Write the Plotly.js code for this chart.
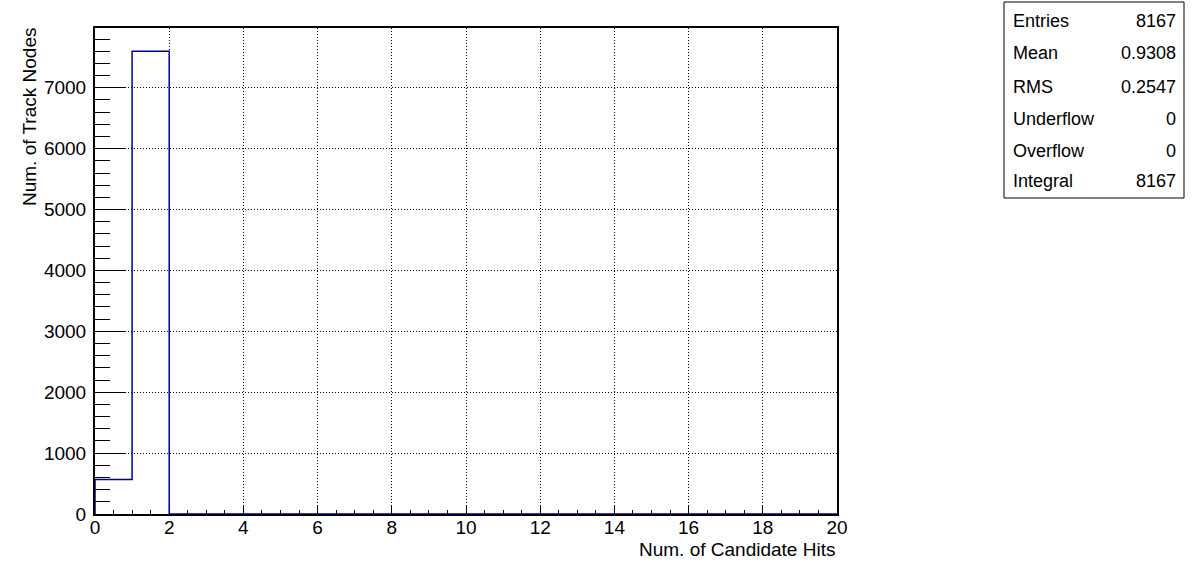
<!DOCTYPE html>
<html>
<head>
<meta charset="utf-8">
<script src="https://cdn.plot.ly/plotly-3.0.1.min.js"></script>
<style>html,body{margin:0;padding:0;background:#fff;}#chart{width:1196px;height:572px;}</style>
</head>
<body>
<div id="chart"></div>
<script>
// Histogram data (bin edges 0..20, unit width)
const binEdges = [0,1,2,3,4,5,6,7,8,9,10,11,12,13,14,15,16,17,18,19,20];
const counts   = [565,7602,0,0,0,0,0,0,0,0,0,0,0,0,0,0,0,0,0,0];
const statLabels = ["Entries","Mean","RMS","Underflow","Overflow","Integral"];
const statValues = ["8167","0.9308","0.2547","0","0","8167"];
const xTitle = "Num. of Candidate Hits";
const yTitle = "Num. of Track Nodes";

// Build step outline
const xs = [binEdges[0]];
const ys = [0];
for (let i = 0; i < counts.length; i++) { xs.push(binEdges[i]); ys.push(counts[i]); }
xs.push(binEdges[binEdges.length-1]); ys.push(0);

const W = 1196, H = 572;
const L = 95, R = 837, T = 28, B = 514;
const pw = R - L, ph = B - T;
const px = v => (v - L) / pw;
const py = v => (B - v) / ph;

const font = "Liberation Sans, Arial, Helvetica, sans-serif";
const fs = 19;
const maxY = Math.max(...counts) * 1.05;

const shapes = [{
  type: "rect", xref: "paper", yref: "paper",
  x0: px(1004), x1: px(1184), y0: py(198), y1: py(2),
  line: {color: "black", width: 1}, fillcolor: "white"
}];
const annotations = [];
const rowY = [21, 53, 87, 119, 151, 181];
statLabels.forEach((lab, i) => {
  annotations.push({xref:"paper", yref:"paper", x: px(1011), y: py(rowY[i]), xanchor:"left", yanchor:"middle",
    text: lab, showarrow:false, font:{family:font, size:fs-1, color:"black"}});
  annotations.push({xref:"paper", yref:"paper", x: px(1178), y: py(rowY[i]), xanchor:"right", yanchor:"middle",
    text: statValues[i], showarrow:false, font:{family:font, size:fs-1, color:"black"}});
});
// axis titles (ROOT-style, aligned to the axis end)
annotations.push({xref:"paper", yref:"paper", x: 1, y: py(549), xanchor:"right", yanchor:"middle",
  text: xTitle, showarrow:false, font:{family:font, size:fs, color:"black"}});
annotations.push({xref:"paper", yref:"paper", x: px(30), y: py(26), xanchor:"center", yanchor:"top", textangle:-90,
  text: yTitle, showarrow:false, font:{family:font, size:fs, color:"black"}});

const trace = {
  type: "scatter", mode: "lines", x: xs, y: ys,
  line: {shape: "hv", color: "#000099", width: 1.5},
  hoverinfo: "skip", showlegend: false
};

const gridDash = "1px,2px";
const layout = {
  width: W, height: H,
  margin: {l: L, r: W - R, t: T, b: H - B, pad: 0},
  paper_bgcolor: "white", plot_bgcolor: "white",
  font: {family: font, size: fs, color: "black"},
  showlegend: false,
  xaxis: {
    range: [0, 20], dtick: 2, tick0: 0,
    showline: true, linecolor: "black", linewidth: 2, mirror: true,
    ticks: "inside", ticklen: 9, tickwidth: 1, tickcolor: "black",
    showgrid: true, gridcolor: "black", griddash: gridDash, gridwidth: 1,
    zeroline: false,
    minor: {ticks: "inside", ticklen: 4, dtick: 0.5, tickcolor: "black", showgrid: false},
    tickfont: {family: font, size: fs, color: "black"},
    ticklabelstandoff: -5,
    layer: "below traces"
  },
  yaxis: {
    range: [0, maxY], dtick: 1000, tick0: 0,
    showline: true, linecolor: "black", linewidth: 2, mirror: true,
    ticks: "inside", ticklen: 30, tickwidth: 1, tickcolor: "black",
    showgrid: true, gridcolor: "black", griddash: gridDash, gridwidth: 1,
    zeroline: false,
    minor: {ticks: "inside", ticklen: 15, dtick: 200, tickcolor: "black", showgrid: false},
    tickfont: {family: font, size: fs, color: "black"},
    ticklabelstandoff: 3,
    layer: "below traces"
  },
  shapes: shapes,
  annotations: annotations
};

Plotly.newPlot("chart", [trace], layout, {staticPlot: true, displayModeBar: false});
</script>
</body>
</html>
